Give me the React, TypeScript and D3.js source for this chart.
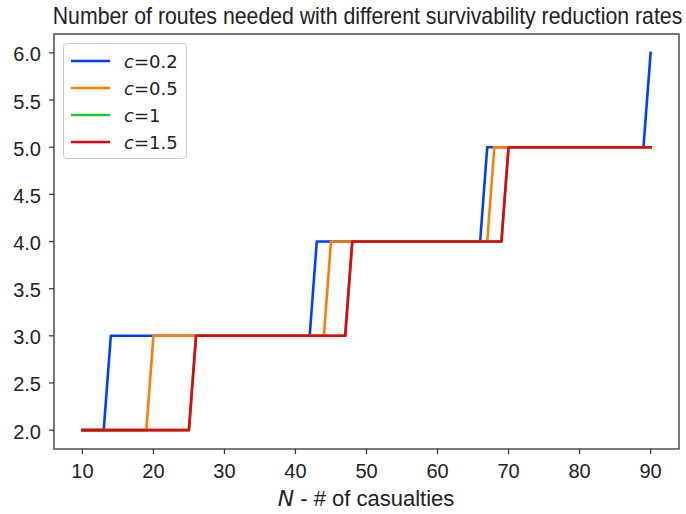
import React from "react";
import * as d3 from "d3";

const N_VALUES: number[] = d3.range(10, 91);
const SERIES_LABELS = ["0.2", "0.5", "1", "1.5"];
const SERIES_COLORS = ["#023eff", "#ff7c00", "#1ac938", "#e8000b"];
// first N at which one more route is needed (routes start at 2)
const THRESH_02 = [14, 43, 67, 90];
const THRESH_05 = [20, 45, 68];
const THRESH_1 = [26, 48, 70];
const THRESH_15 = [26, 48, 70];
const THRESHOLDS = [THRESH_02, THRESH_05, THRESH_1, THRESH_15];

const X_TICKS = [10, 20, 30, 40, 50, 60, 70, 80, 90];
const Y_TICKS = [2.0, 2.5, 3.0, 3.5, 4.0, 4.5, 5.0, 5.5, 6.0];

const W = 686, H = 514;
const L = 54, R = 679, T = 34, B = 449;
const FONT = "'Liberation Sans', Arial, sans-serif";

export default function App() {
  const x = d3.scaleLinear().domain([6, 94]).range([L, R]);
  const y = d3.scaleLinear().domain([1.8, 6.2]).range([B, T]);
  const line = d3.line<[number, number]>().x(d => x(d[0])).y(d => y(d[1]));
  const series = THRESHOLDS.map(th =>
    N_VALUES.map(n => [n, 2 + th.filter(t => n >= t).length] as [number, number])
  );
  return (
    <svg width={W} height={H} style={{ position: "absolute", left: 0, top: 0, background: "#fff" }}>
      <rect x={0} y={0} width={W} height={H} fill="#fff" />
      <g transform="translate(367.5,24) scale(0.925,1)">
        <text x={0} y={0} textAnchor="middle" fontFamily={FONT} fontSize={23} fill="#222">
          Number of routes needed with different survivability reduction rates
        </text>
      </g>
      {series.map((s, i) => (
        <path key={i} d={line(s) || ""} fill="none" stroke={SERIES_COLORS[i]} strokeWidth={2.6}
          strokeLinejoin="round" strokeLinecap="square" />
      ))}
      <rect x={L} y={T} width={R - L} height={B - T} fill="none" stroke="#333" strokeWidth={1.3} />
      {X_TICKS.map(t => (
        <g key={t}>
          <line x1={x(t)} x2={x(t)} y1={B} y2={B + 5} stroke="#333" strokeWidth={1.2} />
          <text x={x(t)} y={478} textAnchor="middle" fontFamily={FONT} fontSize={20} fill="#222">{t}</text>
        </g>
      ))}
      {Y_TICKS.map(t => (
        <g key={t}>
          <line x1={L - 5} x2={L} y1={y(t)} y2={y(t)} stroke="#333" strokeWidth={1.2} />
          <text x={41} y={y(t) + 8.5} textAnchor="end" fontFamily={FONT} fontSize={20} fill="#222">{t.toFixed(1)}</text>
        </g>
      ))}
      <text x={366} y={506} textAnchor="middle" fontFamily={FONT} fontSize={22} fill="#222">
        <tspan fontStyle="italic" fontFamily="'DejaVu Sans', sans-serif" fontSize={22}>N</tspan> - # of casualties
      </text>
      <rect x={63.5} y={43.5} width={123} height={115} rx={3} fill="#fff" fillOpacity={0.8} stroke="#ccc" strokeWidth={1} />
      {SERIES_LABELS.map((lab, i) => {
        const yy = 61 + i * 27;
        return (
          <g key={lab}>
            <line x1={71} x2={110} y1={yy} y2={yy} stroke={SERIES_COLORS[i]} strokeWidth={2.6} />
            <text x={124} y={yy + 6.5} fontFamily="'DejaVu Sans', sans-serif" fontSize={18} fill="#222">
              <tspan fontStyle="italic">c</tspan>={lab}
            </text>
          </g>
        );
      })}
    </svg>
  );
}
